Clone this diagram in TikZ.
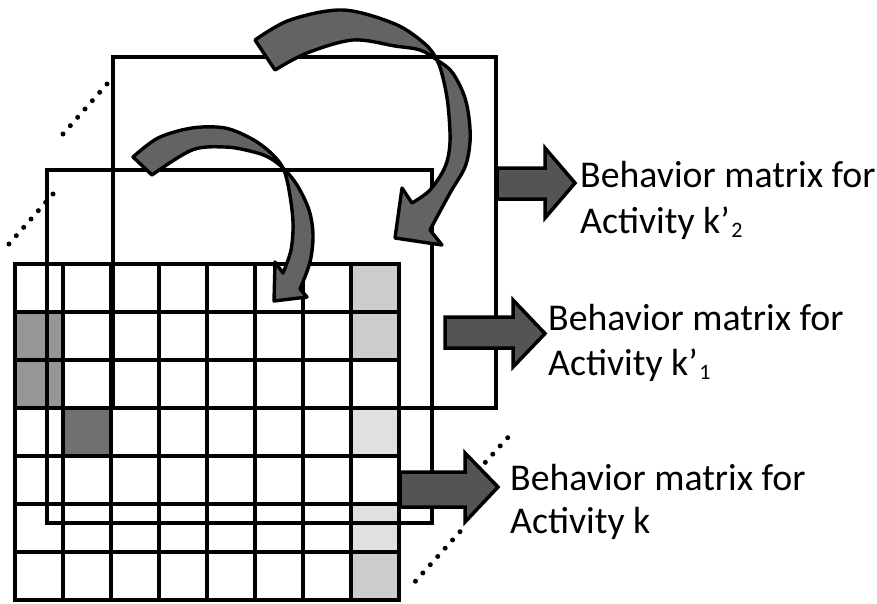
\documentclass[tikz,border=0pt]{standalone}
\usepackage{fontspec}
\setmainfont{Carlito}
\definecolor{curvgray}{gray}{0.39}
\definecolor{arrgray}{gray}{0.33}
\definecolor{gmid}{gray}{0.59}
\definecolor{gdark}{gray}{0.44}
\definecolor{glight}{gray}{0.80}
\definecolor{gpale}{gray}{0.88}
\newcommand{\lblsub}[1]{\kern1.5pt\raisebox{-4.5pt}{\fontsize{22}{22}\selectfont #1}}
\begin{document}
\begin{tikzpicture}[x=1pt,y=-1pt,
  frame/.style={draw=black, line width=4.3pt, inner sep=0pt, outer sep=0pt, minimum width=#1},
  gridline/.style={line width=4.3pt},
  curvearrow/.style={fill=curvgray, draw=black, line width=3.4pt, line join=round},
  blockarrow/.style={fill=arrgray, draw=black, line width=3.5pt, line join=miter},
  dotline/.style={line width=5pt, line cap=round, dash pattern=on 0pt off 11.1pt},
  lbl/.style={font=\fontsize{37.8}{#1}\selectfont, align=left, anchor=base west, inner sep=0pt}]
\useasboundingbox (0,0) rectangle (877,603);

% dotted perspective lines
\coordinate (d1a) at (107,84);  \coordinate (d1b) at (63,134);
\coordinate (d2a) at (53,194);  \coordinate (d2b) at (9,244);
\coordinate (d3a) at (507.7,437.7); \coordinate (d3b) at (485,462.7);
\coordinate (d4a) at (460,531.7); \coordinate (d4b) at (415,581.7);
\draw[dotline] (d1a) -- (d1b);
\draw[dotline] (d2a) -- (d2b);
\draw[dotline] (d3a) -- (d3b);
\draw[dotline] (d4a) -- (d4b);

% front matrix: cell fills
\fill[gmid]   (15,312) rectangle (63,408);
\fill[gdark]  (63,408) rectangle (112,457);
\fill[glight] (351,264) rectangle (399,360);
\fill[gpale]  (351,408) rectangle (399,457);
\fill[gpale]  (351,506) rectangle (399,554);
\fill[glight] (351,554) rectangle (399,600);
% grid lines
\foreach \i in {0,...,8} \draw[gridline] (15+48*\i,264) -- (15+48*\i,600);
\foreach \j in {0,...,7} \draw[gridline] (13,264+48*\j) -- (401,264+48*\j);

% back matrices (frames)
\node[frame=385pt, minimum height=353pt] (mid) at (239.5,346.5) {};
\node[frame=383pt, minimum height=351pt] (back) at (304.5,232.5) {};

% curved arrows (twisted ribbons)
\filldraw[curvearrow] (255,40)
  -- plot[smooth, tension=0.55] coordinates {(255,40) (290,20) (343,10) (395,24) (425,44) (437,60) (443,78) (448,105) (450,142) (445,167) (430,190) (412,203)}
  -- (402,188) -- (395,238) -- (442,245) -- (430,230)
  -- plot[smooth, tension=0.55] coordinates {(430,230) (450,193) (465,167) (470,142) (469,118) (464,95) (452,72) (437,60) (420,50) (395,46) (353,40) (307,53) (275,70)}
  -- cycle;
\filldraw[curvearrow] (133,157)
  -- plot[smooth, tension=0.55] coordinates {(133,157) (158,138) (192,128) (225,128) (252,139) (271,153) (283,168) (289,190) (293,222) (291,250) (283,273)}
  -- (275,262) -- (274,301) -- (307,297) -- (300,289)
  -- plot[smooth, tension=0.55] coordinates {(300,289) (310,262) (313,235) (309,210) (297,185) (283,168) (268,157) (250,151) (225,147) (192,150) (152,175)}
  -- cycle;

% block arrows
\filldraw[blockarrow] (497,168) -- (545,168) -- (545,148) -- (575,183) -- (545,218) -- (545,199) -- (497,199) -- cycle;
\filldraw[blockarrow] (445,317) -- (513,317) -- (513,300) -- (545,333.5) -- (513,367) -- (513,348) -- (445,348) -- cycle;
\filldraw[blockarrow] (400,472) -- (465,472) -- (465,453) -- (498,487) -- (465,522) -- (465,507) -- (400,507) -- cycle;

% labels (anchored at the baseline of the last line)
\node[lbl=45.5pt] (lk2) at (580,233.3) {Behavior matrix for\\Activity k’\lblsub{2}};
\node[lbl=45pt] (lk1) at (548,375) {Behavior matrix for\\Activity k’\lblsub{1}};
\node[lbl=42.6pt] (lk) at (510,533.3) {Behavior matrix for\\Activity k};
\end{tikzpicture}
\end{document}
